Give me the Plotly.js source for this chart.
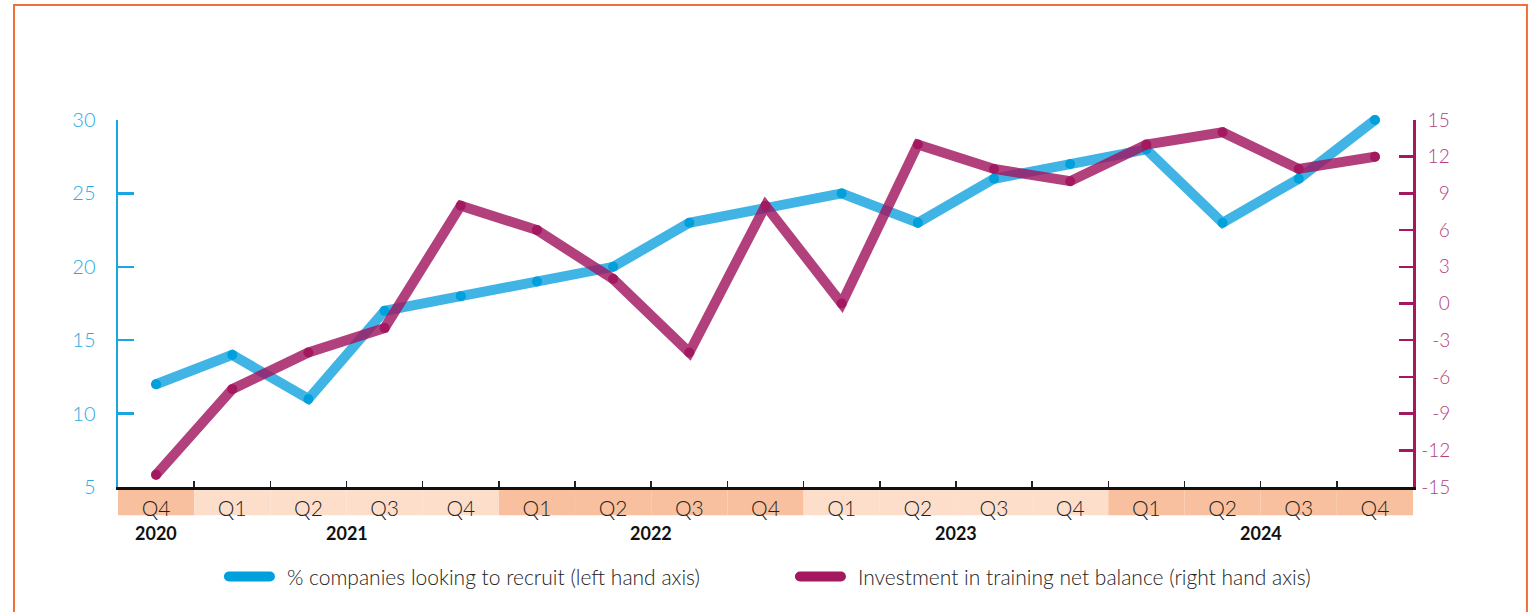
<!DOCTYPE html>
<html>
<head>
<meta charset="utf-8">
<script src="https://cdn.plot.ly/plotly-3.0.1.min.js"></script>
<style>
  html, body { margin: 0; padding: 0; background: #ffffff; }
  #chart { width: 1535px; height: 612px; }
  .cartesianlayer * { clip-path: none !important; }
  .scatterlayer .js-line { stroke-linecap: round; }
  .legendlines path { stroke-linecap: round; stroke-dasharray: 41 1000 !important; stroke-dashoffset: -7; }
</style>
</head>
<body>
<div id="chart"></div>
<script>
// ---- data ----
const quarters = ["Q4","Q1","Q2","Q3","Q4","Q1","Q2","Q3","Q4","Q1","Q2","Q3","Q4","Q1","Q2","Q3","Q4"];
const years    = [2020,2021,2021,2021,2021,2022,2022,2022,2022,2023,2023,2023,2023,2024,2024,2024,2024];
const recruitPct       = [12,14,11,17,18,19,20,23,24,25,23,26,27,28,23,26,30];
const trainingBalance  = [-14,-7,-4,-2,8,6,2,-4,8,0,13,11,10,13,14,11,12];
const leftTicks  = [5,10,15,20,25,30];
const rightTicks = [-15,-12,-9,-6,-3,0,3,6,9,12,15];
const seriesNames = ["% companies looking to recruit (left hand axis)", "Investment in training net balance (right hand axis)"];

const categories = quarters.map((q, i) => q + " " + years[i]);
const FONT = "Lato, 'Open Sans', sans-serif";

// right-axis labels with hyphen minus, padded so they line up on the right
const rightTickText = rightTicks.map(v => {
  const s = String(v);
  let pad = "";
  if (v >= 0) pad += "\u2004";
  if (Math.abs(v) < 10) pad += "\u2007";
  return pad + s;
});

// ---- bands & year labels ----
const uniqueYears = [...new Set(years)];
const shapes = [];
categories.forEach((c, i) => {
  const yi = uniqueYears.indexOf(years[i]);
  shapes.push({
    type: "rect", xref: "x", yref: "paper", layer: "below",
    x0: i - 0.5, x1: i + 0.5, y0: -0.077, y1: -0.004,
    fillcolor: yi % 2 === 0 ? "#F8C09E" : "#FCDECB", line: { width: 0 }
  });
});
// orange frame
shapes.push({
  type: "rect", xref: "paper", yref: "paper", layer: "above",
  x0: -0.0803, x1: 1.0880, y0: 1.3135, y1: -0.6,
  line: { color: "#F0703A", width: 2 }, fillcolor: "rgba(0,0,0,0)"
});

const annotations = uniqueYears.map(y => {
  const idx = years.map((v, i) => v === y ? i : -1).filter(i => i >= 0);
  const mid = idx.reduce((a, b) => a + b, 0) / idx.length;
  return {
    x: mid, y: -0.125, xref: "x", yref: "paper", yanchor: "middle",
    text: String(y), showarrow: false,
    font: { family: FONT, size: 18, color: "#111", weight: 700 }
  };
});

const traces = [
  {
    x: categories, y: recruitPct, name: seriesNames[0], type: "scatter", mode: "lines+markers",
    line: { color: "rgba(0,155,220,0.75)", width: 10 },
    marker: { color: "#00A0DC", size: 10 },
    cliponaxis: false, yaxis: "y", hoverinfo: "skip", showlegend: false
  },
  {
    x: categories, y: trainingBalance, name: seriesNames[1], type: "scatter", mode: "lines+markers",
    line: { color: "rgba(160,22,96,0.82)", width: 10 },
    marker: { color: "#A3185F", size: 10 },
    cliponaxis: false, yaxis: "y2", hoverinfo: "skip", showlegend: false
  },
  // legend entries (solid key colours)
  {
    x: [null], y: [null], name: seriesNames[0], type: "scatter", mode: "lines",
    line: { color: "#00A0DC", width: 14 }, yaxis: "y", hoverinfo: "skip"
  },
  {
    x: [null], y: [null], name: seriesNames[1], type: "scatter", mode: "lines",
    line: { color: "#A3185F", width: 14 }, yaxis: "y2", hoverinfo: "skip"
  }
];

const layout = {
  width: 1535, height: 612,
  margin: { l: 118, r: 122, t: 120, b: 125 },
  paper_bgcolor: "#ffffff", plot_bgcolor: "rgba(0,0,0,0)",
  font: { family: FONT, color: "#333" },
  showlegend: true,
  legend: {
    orientation: "h", x: 0.0764, xanchor: "left", y: -0.245, yanchor: "middle",
    font: { family: FONT, size: 21, color: "#222", weight: 300 },
    itemwidth: 60, entrywidth: 496, entrywidthmode: "pixels",
    traceorder: "normal", bgcolor: "rgba(0,0,0,0)"
  },
  xaxis: {
    type: "category", range: [-0.5, 16.5],
    tickmode: "array", tickvals: categories, ticktext: quarters,
    tickson: "boundaries", ticks: "inside", ticklen: 6, tickwidth: 1.5, tickcolor: "#222",
    showline: true, linecolor: "#111", linewidth: 2.5,
    showgrid: false, zeroline: false,
    tickfont: { family: FONT, size: 21, color: "#222", weight: 300 }, ticklabelstandoff: 1,
    fixedrange: true
  },
  yaxis: {
    range: [5, 30], tickmode: "array", tickvals: leftTicks,
    ticks: "inside", ticklen: 16, tickwidth: 2.5, tickcolor: "#1AA6E0",
    showline: true, linecolor: "#1AA6E0", linewidth: 2.5,
    showgrid: false, zeroline: false,
    tickfont: { family: FONT, size: 20, color: "#29ABE2", weight: 300 }, ticklabelstandoff: 16,
    fixedrange: true
  },
  yaxis2: {
    overlaying: "y", side: "right", range: [-15, 15],
    tickmode: "array", tickvals: rightTicks, ticktext: rightTickText,
    ticks: "inside", ticklen: 14, tickwidth: 2.5, tickcolor: "#A3185F",
    showline: true, linecolor: "#A3185F", linewidth: 2.5,
    showgrid: false, zeroline: false,
    tickfont: { family: FONT, size: 19, color: "#B3407C", weight: 300 }, ticklabelstandoff: 2,
    fixedrange: true
  },
  shapes: shapes,
  annotations: annotations
};

Plotly.newPlot("chart", traces, layout, { displayModeBar: false, staticPlot: true });
</script>
</body>
</html>
